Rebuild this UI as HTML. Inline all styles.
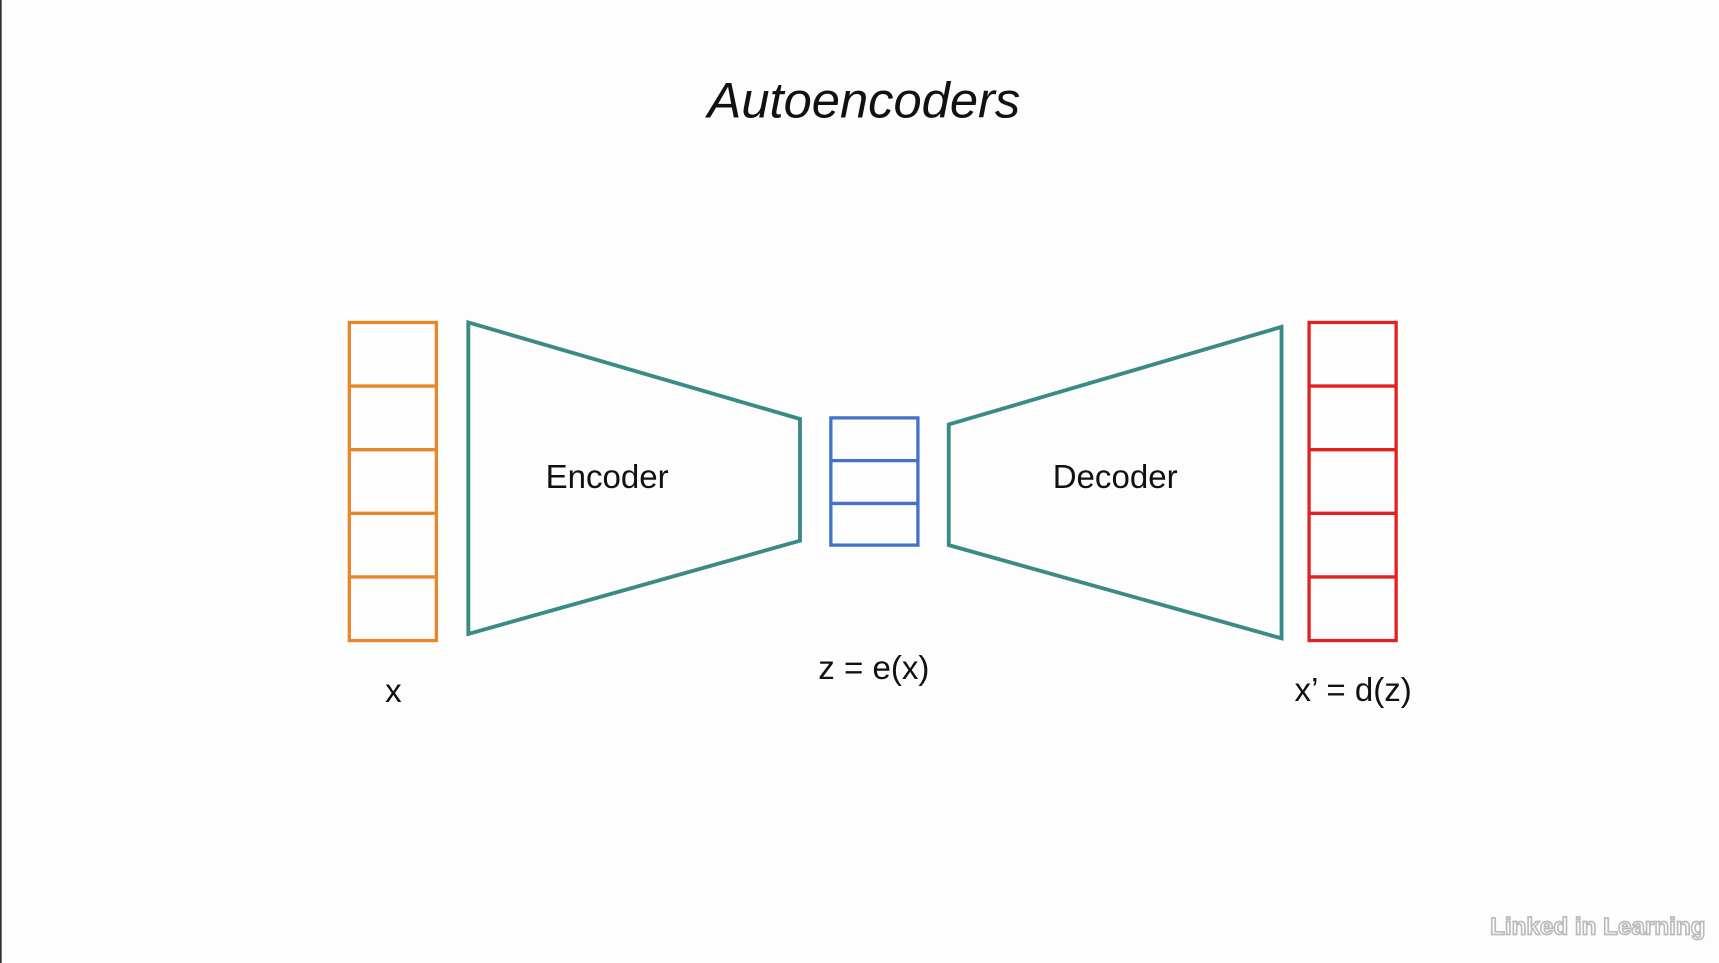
<!DOCTYPE html>
<html><head><meta charset="utf-8"><style>
html,body{margin:0;padding:0;background:#fdfdfd;width:1719px;height:963px;overflow:hidden}
svg{display:block}
</style></head><body>
<svg width="1719" height="963" viewBox="0 0 1560 878" preserveAspectRatio="none" xmlns="http://www.w3.org/2000/svg">
<rect width="1560" height="878" fill="#fdfdfd"/>
<rect x="0" y="0" width="1.5" height="878" fill="#2a323c"/>
<text x="784" y="107" text-anchor="middle" font-family="Liberation Sans, sans-serif" font-style="italic" font-size="46" fill="#111">Autoencoders</text>
<g fill="none" stroke="#e8862a" stroke-width="3">
<rect x="317" y="294" width="79" height="290"/>
<line x1="317" y1="352" x2="396" y2="352"/><line x1="317" y1="410" x2="396" y2="410"/>
<line x1="317" y1="468" x2="396" y2="468"/><line x1="317" y1="526" x2="396" y2="526"/>
</g>
<g fill="none" stroke="#e02222" stroke-width="3">
<rect x="1188" y="294" width="79" height="290"/>
<line x1="1188" y1="352" x2="1267" y2="352"/><line x1="1188" y1="410" x2="1267" y2="410"/>
<line x1="1188" y1="468" x2="1267" y2="468"/><line x1="1188" y1="526" x2="1267" y2="526"/>
</g>
<g fill="none" stroke="#4472c4" stroke-width="3">
<rect x="754" y="381" width="79" height="116"/>
<line x1="754" y1="420" x2="833" y2="420"/><line x1="754" y1="459" x2="833" y2="459"/>
</g>
<g fill="none" stroke="#3a8a86" stroke-width="3.5" stroke-linejoin="miter">
<polygon points="425,294 726,382 726,493 425,578"/>
<polygon points="1163,298 861,387 861,497 1163,582"/>
</g>
<g font-family="Liberation Sans, sans-serif" font-size="30" fill="#111" text-anchor="middle">
<text x="551" y="445">Encoder</text>
<text x="1012" y="445">Decoder</text>
<text x="357" y="640">x</text>
<text x="793" y="619">z = e(x)</text>
<text x="1228" y="639">x’ = d(z)</text>
</g>
<text x="1450" y="852" text-anchor="middle" font-family="Liberation Sans, sans-serif" font-weight="bold" font-size="22" fill="#fff" stroke="#bbb" stroke-width="1.5">Linked in Learning</text>
</svg>
</body></html>
